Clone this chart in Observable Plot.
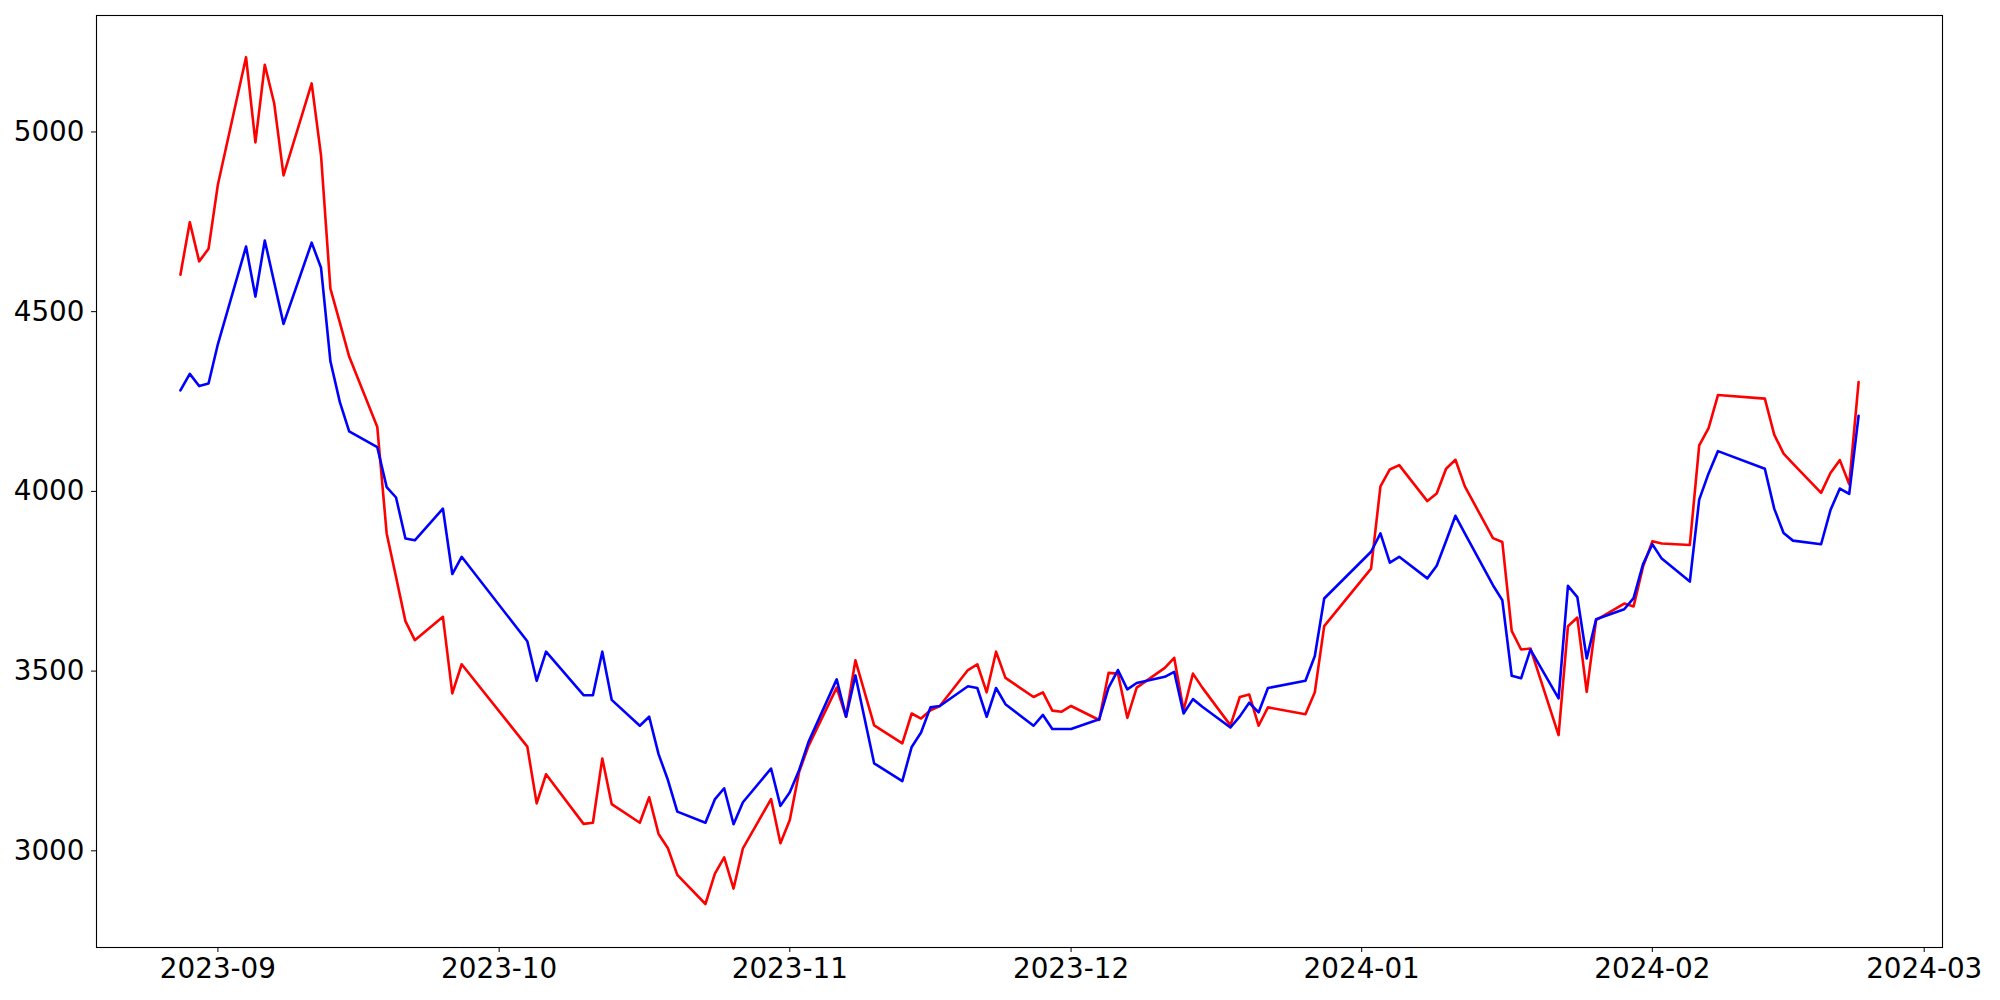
<!DOCTYPE html>
<html>
<head>
<meta charset="utf-8">
<script src="https://cdn.jsdelivr.net/npm/d3@7"></script>
<script src="https://cdn.jsdelivr.net/npm/@observablehq/plot@0.6"></script>
<style>
  html, body { margin: 0; padding: 0; background: white; overflow: hidden; }
  #chart { width: 2000px; height: 1000px; }
  #chart svg { display: block; max-width: none !important; overflow: visible; }
</style>
</head>
<body>
<div id="chart"></div>
<script>
const dates = [
  "2023-08-28","2023-08-29","2023-08-30","2023-08-31","2023-09-01",
  "2023-09-04","2023-09-05","2023-09-06","2023-09-07","2023-09-08",
  "2023-09-11","2023-09-12","2023-09-13","2023-09-14","2023-09-15",
  "2023-09-18","2023-09-19","2023-09-20","2023-09-21","2023-09-22",
  "2023-09-25","2023-09-26","2023-09-27",
  "2023-10-04","2023-10-05","2023-10-06",
  "2023-10-10","2023-10-11","2023-10-12","2023-10-13",
  "2023-10-16","2023-10-17","2023-10-18","2023-10-19","2023-10-20",
  "2023-10-23","2023-10-24","2023-10-25","2023-10-26","2023-10-27",
  "2023-10-30","2023-10-31","2023-11-01","2023-11-02","2023-11-03",
  "2023-11-06","2023-11-07","2023-11-08","2023-11-10",
  "2023-11-13","2023-11-14","2023-11-15","2023-11-16","2023-11-17",
  "2023-11-20","2023-11-21","2023-11-22","2023-11-23","2023-11-24",
  "2023-11-27","2023-11-28","2023-11-29","2023-11-30","2023-12-01",
  "2023-12-04","2023-12-05","2023-12-06","2023-12-07","2023-12-08",
  "2023-12-11","2023-12-12","2023-12-13","2023-12-14","2023-12-15",
  "2023-12-18","2023-12-19","2023-12-20","2023-12-21","2023-12-22",
  "2023-12-26","2023-12-27","2023-12-28",
  "2024-01-02","2024-01-03","2024-01-04","2024-01-05",
  "2024-01-08","2024-01-09","2024-01-10","2024-01-11","2024-01-12",
  "2024-01-15","2024-01-16","2024-01-17","2024-01-18","2024-01-19",
  "2024-01-22","2024-01-23","2024-01-24","2024-01-25","2024-01-26",
  "2024-01-29","2024-01-30","2024-01-31","2024-02-01","2024-02-02",
  "2024-02-05","2024-02-06","2024-02-07","2024-02-08",
  "2024-02-13","2024-02-14","2024-02-15","2024-02-16",
  "2024-02-19","2024-02-20","2024-02-21","2024-02-22","2024-02-23"
];

const redSeries = [
  4603,4749,4640,4675,4854,
  5208,4971,5187,5080,4879,
  5135,4934,4564,4470,4375,
  4179,3883,3762,3639,3586,
  3651,3438,3519,
  3290,3132,3213,
  3075,3078,3257,3130,
  3078,3149,3047,3007,2933,
  2852,2936,2982,2895,3007,
  3144,3021,3086,3220,3292,
  3454,3373,3530,3349,
  3299,3382,3368,3391,3403,
  3503,3519,3441,3554,3481,
  3428,3441,3390,3387,3403,
  3364,3495,3493,3370,3454,
  3509,3537,3391,3493,3454,
  3349,3428,3435,3348,3399,
  3380,3441,3625,
  3785,4014,4061,4073,
  3973,3994,4063,4088,4014,
  3870,3859,3612,3560,3563,
  3322,3625,3649,3442,3642,
  3688,3680,3790,3861,3855,
  3851,4128,4176,4268,
  4258,4158,4105,4077,
  3996,4051,4087,4020,4304
];

const blueSeries = [
  4281,4327,4293,4300,4410,
  4681,4542,4698,4582,4466,
  4692,4622,4362,4249,4167,
  4123,4012,3983,3869,3864,
  3952,3770,3818,
  3583,3473,3554,
  3433,3433,3554,3420,
  3348,3373,3269,3197,3109,
  3078,3143,3174,3074,3135,
  3229,3125,3163,3225,3303,
  3477,3373,3488,3243,
  3194,3289,3329,3399,3403,
  3458,3453,3373,3453,3408,
  3348,3378,3339,3339,3339,
  3366,3454,3503,3449,3467,
  3484,3498,3382,3422,3401,
  3343,3374,3412,3385,3453,
  3473,3542,3702,
  3832,3883,3802,3818,
  3758,3793,3862,3932,3883,
  3739,3697,3487,3480,3560,
  3424,3737,3706,3535,3644,
  3672,3703,3797,3853,3813,
  3749,3977,4050,4112,
  4063,3952,3884,3863,
  3853,3948,4008,3993,4210
];

const xTickDates = ["2023-09-01","2023-10-01","2023-11-01","2023-12-01","2024-01-01","2024-02-01","2024-03-01"];
const yTickValues = [3000, 3500, 4000, 4500, 5000];

const table = dates.map((d, i) => ({
  date: new Date(d + "T00:00:00Z"),
  red: redSeries[i],
  blue: blueSeries[i]
}));

const chart = Plot.plot({
  width: 2000,
  height: 1000,
  marginLeft: 96,
  marginRight: 58,
  marginTop: 15,
  marginBottom: 53,
  style: {
    fontFamily: "DejaVu Sans",
    fontSize: "27.8px",
    color: "black",
    background: "white"
  },
  x: {
    type: "utc",
    domain: [new Date("2023-08-19T01:12:00Z"), new Date("2024-03-02T22:48:00Z")],
    ticks: xTickDates.map(d => new Date(d + "T00:00:00Z")),
    tickFormat: d3.utcFormat("%Y-%m"),
    tickSize: 5,
    tickPadding: 6,
    label: null
  },
  y: {
    domain: [2731, 5324],
    ticks: yTickValues,
    tickFormat: d3.format("d"),
    tickSize: 5,
    tickPadding: 7,
    label: null
  },
  marks: [
    Plot.lineY(table, {x: "date", y: "red", stroke: "#ff0000", strokeWidth: 2.6}),
    Plot.lineY(table, {x: "date", y: "blue", stroke: "#0000ff", strokeWidth: 2.6}),
    Plot.frame({stroke: "black", strokeWidth: 1.1})
  ]
});

document.getElementById("chart").appendChild(chart);
</script>
</body>
</html>
